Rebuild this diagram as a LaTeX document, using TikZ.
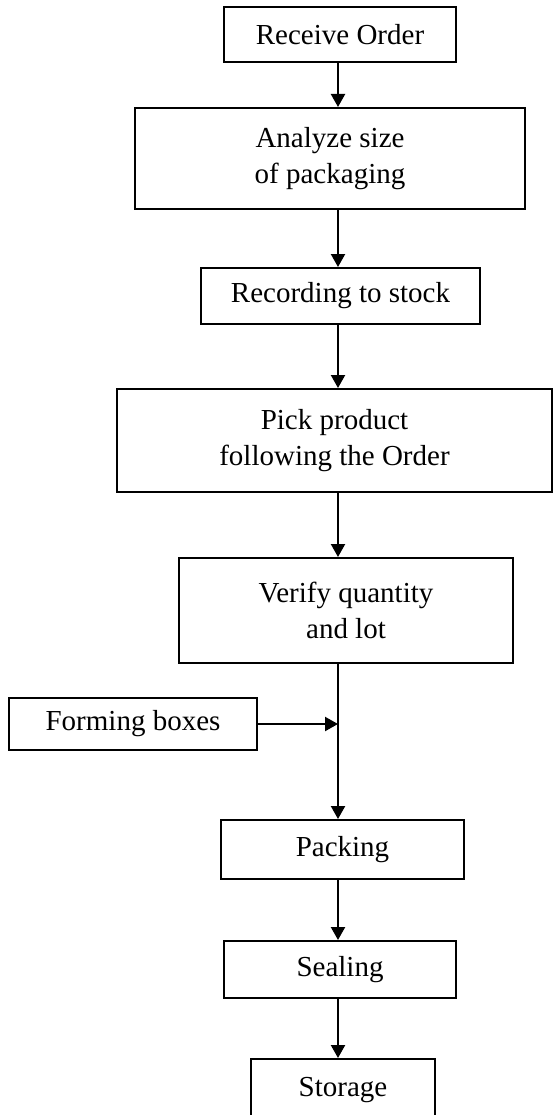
\documentclass[tikz,border=0pt]{standalone}
\usepackage{fontspec}
\setmainfont{Liberation Serif}
\usetikzlibrary{arrows.meta}
\begin{document}
\begin{tikzpicture}[x=1pt,y=-1pt,
  stepbox/.style={draw, line width=2pt, rectangle, inner sep=0pt, align=center,
                  font=\fontsize{29}{36}\selectfont},
  arr/.style={line width=2.2pt, -{Triangle[length=13pt,width=14pt]}}]
  % page area
  \fill[white] (0,0) rectangle (553,1115);
  \useasboundingbox (0,0) rectangle (553,1115);
  \clip (0,0) rectangle (553,1115);

  % vertical line of the main flow
  \coordinate (spine) at (338,0);

  % process steps
  \node[stepbox, minimum width=232pt, minimum height=55pt]  (recv) at (340,34.5)   {Receive Order};
  \node[stepbox, minimum width=390pt, minimum height=101pt] (anal) at (330,158.5)  {Analyze size\\of packaging};
  \node[stepbox, minimum width=279pt, minimum height=56pt]  (rec)  at (340.5,296)  {Recording to stock};
  \node[stepbox, minimum width=435pt, minimum height=103pt] (pick) at (334.5,440.5) {Pick product\\following the Order};
  \node[stepbox, minimum width=334pt, minimum height=105pt] (ver)  at (346,610.5)  {Verify quantity\\and lot};
  \node[stepbox, minimum width=248pt, minimum height=52pt]  (form) at (133,724)    {Forming boxes};
  \node[stepbox, minimum width=243pt, minimum height=59pt]  (pack) at (342.5,849.5) {Packing};
  \node[stepbox, minimum width=232pt, minimum height=57pt]  (seal) at (340,969.5)  {Sealing};
  \node[stepbox, minimum width=184pt, minimum height=62pt]  (stor) at (343,1090)   {Storage};

  % connectors
  \draw[arr] (recv.south -| spine) -- (anal.north -| spine);
  \draw[arr] (anal.south -| spine) -- (rec.north -| spine);
  \draw[arr] (rec.south -| spine)  -- (pick.north -| spine);
  \draw[arr] (pick.south -| spine) -- (ver.north -| spine);
  \draw[arr] (ver.south -| spine)  -- (pack.north -| spine);
  \draw[arr] (form.east) -- (form.east -| spine);
  \draw[arr] (pack.south -| spine) -- (seal.north -| spine);
  \draw[arr] (seal.south -| spine) -- (stor.north -| spine);
\end{tikzpicture}
\end{document}
